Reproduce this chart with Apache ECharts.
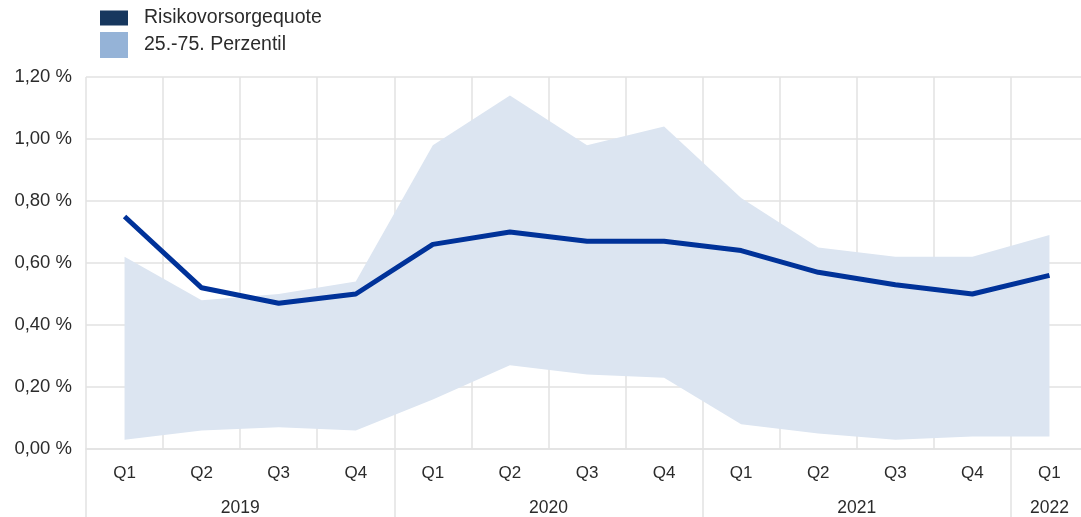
<!DOCTYPE html>
<html>
<head>
<meta charset="utf-8">
<script src="https://cdn.jsdelivr.net/npm/echarts@6/dist/echarts.min.js"></script>
<style>
html,body{margin:0;padding:0;background:#fff;overflow:hidden;width:1081px;height:517px;}
#chart{width:1088px;height:517px;}
</style>
</head>
<body>
<div id="chart"></div>
<script>
// ---- data ----
const quarters = ['Q1','Q2','Q3','Q4','Q1','Q2','Q3','Q4','Q1','Q2','Q3','Q4','Q1'];
const years = ['2019','2020','2021','2022'];
const yearCenters = [2, 6, 10, 12.5];      // in quarter units along the axis
const yearBounds = [0, 4, 8, 12];
const quote = [0.75,0.52,0.47,0.50,0.66,0.70,0.67,0.67,0.64,0.57,0.53,0.50,0.56];
const p75 = [0.62,0.48,0.50,0.54,0.98,1.14,0.98,1.04,0.81,0.65,0.62,0.62,0.69];
const p25 = [0.03,0.06,0.07,0.06,0.16,0.27,0.24,0.23,0.08,0.05,0.03,0.04,0.04];
const yTicks = [0,0.2,0.4,0.6,0.8,1.0,1.2];

const nameQuote = 'Risikovorsorgequote';
const nameBand = '25.-75. Perzentil';
const FONT = 'Liberation Sans, Arial, sans-serif';
const TXT = '#2b2b2b';

const chart = echarts.init(document.getElementById('chart'), null, {renderer:'canvas'});
chart.setOption({
  animation:false,
  backgroundColor:'#ffffff',
  textStyle:{fontFamily:FONT},
  grid:{left:86, top:77, right:0, height:372, containLabel:false},
  legend:[
    {show:true, orient:'vertical', left:100, top:8, padding:0, itemWidth:28, itemHeight:15,
     selectedMode:false,
     textStyle:{fontFamily:FONT, fontSize:19.5, color:TXT, padding:[6,0,0,11]},
     data:[{name:nameQuote, icon:'rect', itemStyle:{color:'#17375e'}}]},
    {show:true, orient:'vertical', left:100, top:32, padding:0, itemWidth:28, itemHeight:26,
     selectedMode:false,
     textStyle:{fontFamily:FONT, fontSize:19.5, color:TXT, padding:[4,0,0,11]},
     data:[{name:nameBand, icon:'rect', itemStyle:{color:'#95b3d7'}}]}
  ],
  xAxis:[
    {type:'category', data:quarters, boundaryGap:true, gridIndex:0,
     axisLine:{show:true, lineStyle:{color:'#e2e2e2', width:1.5}},
     axisTick:{show:false},
     axisLabel:{fontFamily:FONT, fontSize:17, color:TXT, margin:16, interval:0},
     splitLine:{show:true, interval:0, lineStyle:{color:'#e2e2e2', width:1.5}}},
    {type:'value', min:0, max:quarters.length, gridIndex:0, position:'bottom',
     axisLine:{show:false},
     axisTick:{show:true, customValues:yearBounds, length:70, inside:false, lineStyle:{color:'#e2e2e2', width:1.5}},
     axisLabel:{show:true, customValues:yearCenters, fontFamily:FONT, fontSize:17.5, color:TXT, margin:50,
       formatter:function(v){ const i = yearCenters.indexOf(v); return i>=0 ? years[i] : ''; }},
     splitLine:{show:false}}
  ],
  yAxis:{type:'value', min:0, max:1.2, interval:0.2,
    axisLine:{show:false}, axisTick:{show:false},
    axisLabel:{fontFamily:FONT, fontSize:18.5, color:TXT, margin:14,
      formatter:function(v){ return v.toFixed(2).replace('.', ',') + ' %'; }},
    splitLine:{show:true, lineStyle:{color:'#e2e2e2', width:1.5}}},
  series:[
    {name:'p25', type:'line', stack:'band', data:p25, symbol:'none', silent:true,
     lineStyle:{opacity:0}, areaStyle:{opacity:0}, z:1},
    {name:nameBand, type:'line', stack:'band', data:p75.map((v,i)=>+(v-p25[i]).toFixed(4)),
     symbol:'none', silent:true, color:'#dce5f1',
     lineStyle:{opacity:0}, areaStyle:{color:'#dce5f1', opacity:1}, z:1},
    {name:nameQuote, type:'line', data:quote, symbol:'none', color:'#003299',
     lineStyle:{color:'#003299', width:5}, z:3}
  ]
});
</script>
</body>
</html>
